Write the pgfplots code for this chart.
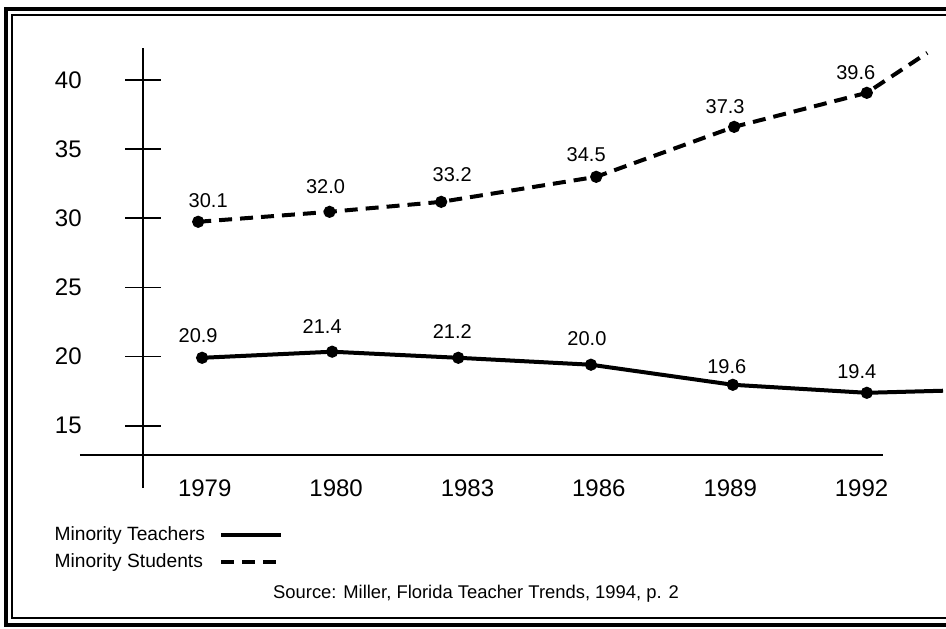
\documentclass[border=0pt]{standalone}
\usepackage{pgfplots}
\usepackage{pgfplotstable}
\pgfplotsset{compat=1.18}
\usepackage{fontspec}
\setmainfont{Liberation Sans}

% x = year slot, y = drawn height, dx/dy = label offset (pt), label = printed value
\pgfplotstableread{
x     y      dx    dy    label
-0.02 19.91  -2    11    20.9
0.97  20.35  -5    12.5  21.4
1.93  19.91  -3    13    21.2
2.94  19.41  -2    13    20.0
4.02  17.96  -3    9     19.6
5.04  17.38  -5    10.5  19.4
5.62  17.53  0     0     {}
}\teachers
\pgfplotstableread{
x     y      dx    dy    label
-0.05 29.74  5     10.5  30.1
0.95  30.46  -2    12.5  32.0
1.80  31.18  5.5   13.5  33.2
2.98  32.99  -5    11    34.5
4.03  36.60  -4.5  10    37.3
5.04  39.06  -5.5  10    39.6
5.50  41.95  0     0     {}
}\students

\begin{document}
\begin{tikzpicture}
% page = 946x628 px, 0.5pt per px
\useasboundingbox (0,0) rectangle (473pt,314pt);
% double frame of the scan (left, top, bottom)
\draw[line width=1.6pt] (473pt,309.5pt) -- (3pt,309.5pt) -- (3pt,1.5pt) -- (473pt,1.5pt);
\draw[line width=0.7pt] (473pt,306.5pt) -- (6pt,306.5pt) -- (6pt,5pt) -- (473pt,5pt);

\begin{axis}[
    at={(71.5pt,70pt)}, anchor=south west,
    scale only axis, width=400pt, height=220pt,
    xmin=-0.47, xmax=5.62, ymin=10.5, ymax=42.3,
    clip=false,
    axis line style={draw=none},
    xtick={0,...,5},
    xticklabels={1979,1980,1983,1986,1989,1992},
    xtick style={draw=none},
    xticklabel style={anchor=center, yshift=8.75pt, font=\fontsize{12}{14}\selectfont},
    ytick={15,20,...,40},
    ytick pos=left,
    tick align=center,
    major tick length=17.5pt,
    ytick style={black, line width=0.8pt},
    yticklabel style={anchor=east, xshift=-18.4pt, font=\fontsize{12}{14}\selectfont},
    /pgf/number format/assume math mode=true,
    nodes near coords,
    point meta=explicit symbolic,
    visualization depends on={\thisrow{dx} \as \dx},
    visualization depends on={\thisrow{dy} \as \dy},
    every node near coord/.append style={font=\fontsize{10}{12}\selectfont,
        anchor=center, xshift=\dx pt, yshift=\dy pt, black},
    legend plot pos=right,
    legend cell align=left,
    legend image code/.code={\path (0pt,0pt); \draw[#1,mark=none] (5pt,0pt) -- (35pt,0pt);},
    legend style={at={(-0.116,-0.077)}, anchor=north west, draw=none, fill=none,
        inner sep=0pt, row sep=1pt, font=\fontsize{9.6}{11}\selectfont},
]
% axis lines as drawn in the scan
\draw[line width=0.8pt] (axis cs:-0.47,10.5) -- (axis cs:-0.47,42.3);
\draw[line width=0.8pt] (axis cs:-0.95,12.9) -- (axis cs:5.16,12.9);

\addplot[black, line width=2pt, mark=*, mark size=2pt, mark indices={1,...,6},
         mark options={solid}]
  table[x=x, y=y, meta=label] {\teachers};
\addlegendentry{Minority Teachers}

\addplot[black, line width=2pt, dash pattern=on 6.5pt off 4pt, mark=*, mark size=2pt,
         mark indices={1,...,6}, mark options={solid}]
  table[x=x, y=y, meta=label] {\students};
\addlegendentry{Minority Students}
\end{axis}

\node[font=\fontsize{9.2}{11}\selectfont] at (238pt,17pt)
  {Source: Miller, Florida Teacher Trends, 1994, p. 2};
\end{tikzpicture}
\end{document}
